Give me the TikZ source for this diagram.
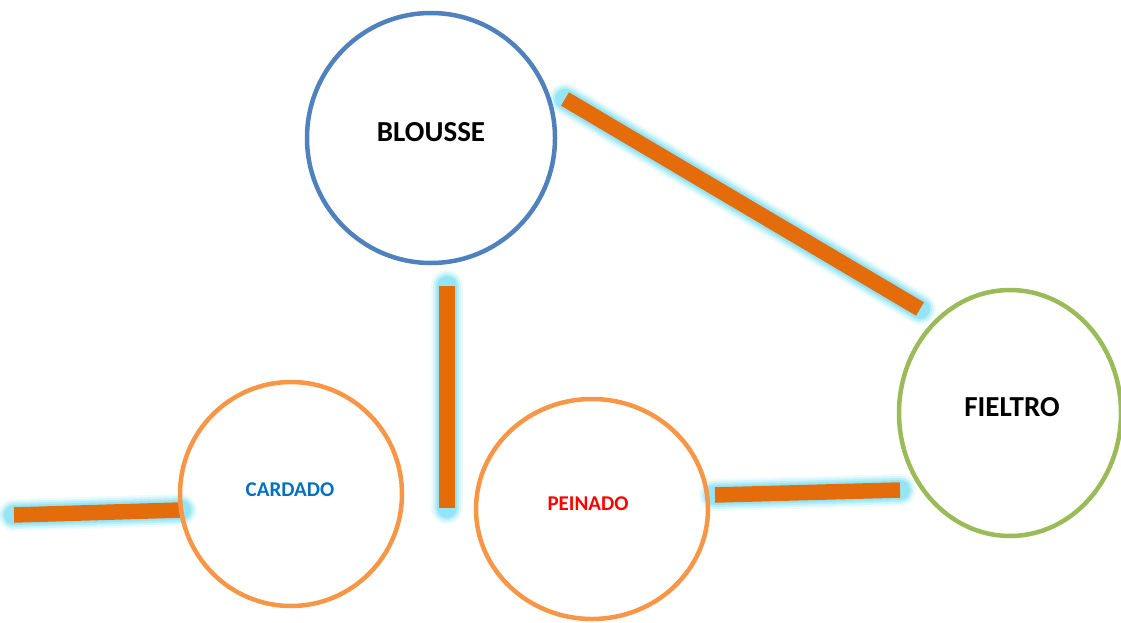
\documentclass[tikz,border=0pt]{standalone}
\usepackage{fontspec}
\setmainfont{Carlito}
\definecolor{cblue}{HTML}{4F81BD}
\definecolor{corange}{HTML}{F79646}
\definecolor{cgreen}{HTML}{9BBB59}
\definecolor{cline}{HTML}{E46C0A}
\definecolor{cglow}{HTML}{8EE3F5}
\definecolor{tblue}{HTML}{0070C0}
\definecolor{tred}{HTML}{FF0000}
\tikzset{
  ring/.style={draw=#1, line width=4.5pt},
  glowA/.style={draw=cglow, line width=32pt, line cap=round, opacity=0.15},
  glowB/.style={draw=cglow, line width=28pt, line cap=round, opacity=0.25},
  glowC/.style={draw=cglow, line width=24pt, line cap=round, opacity=0.45},
  glowD/.style={draw=cglow, line width=20pt, line cap=round, opacity=0.8},
  bar/.style={draw=cline, line width=15.5pt, line cap=butt},
  big/.style={font=\bfseries\fontsize{29}{34}\selectfont, text=black},
  small/.style={font=\bfseries\fontsize{21}{25}\selectfont},
}
\newcommand{\glowbar}[2]{%
  \draw[glowA] (#1) -- (#2);
  \draw[glowB] (#1) -- (#2);
  \draw[glowC] (#1) -- (#2);
  \draw[glowD] (#1) -- (#2);
  \draw[bar] (#1) -- (#2);
}
\begin{document}
\begin{tikzpicture}[x=1pt,y=-1pt]
\useasboundingbox (0,0) rectangle (1121,623);
% connector end points
\coordinate (d1) at (565,99);
\coordinate (d2) at (920,309);
\coordinate (v1) at (447,286);
\coordinate (v2) at (447,508);
\coordinate (l1) at (14,515);
\coordinate (l2) at (181,510);
\coordinate (r1) at (715,495);
\coordinate (r2) at (900,490);
\glowbar{d1}{d2}
\glowbar{v1}{v2}
\glowbar{l1}{l2}
\glowbar{r1}{r2}
% circles
\draw[ring=cblue] (431,138) ellipse [x radius=124, y radius=125];
\draw[ring=corange] (291,494) ellipse [x radius=111, y radius=112];
\draw[ring=corange] (592,509) ellipse [x radius=116, y radius=110];
\draw[ring=cgreen] (1010,413) ellipse [x radius=111, y radius=123];
% labels
\node[big] (blousse) at (431,132) {BLOUSSE};
\node[big] (fieltro) at (1012,407) {FIELTRO};
\node[small, text=tblue] (cardado) at (290,490) {CARDADO};
\node[small, text=tred] (peinado) at (588,504) {PEINADO};
\end{tikzpicture}
\end{document}
